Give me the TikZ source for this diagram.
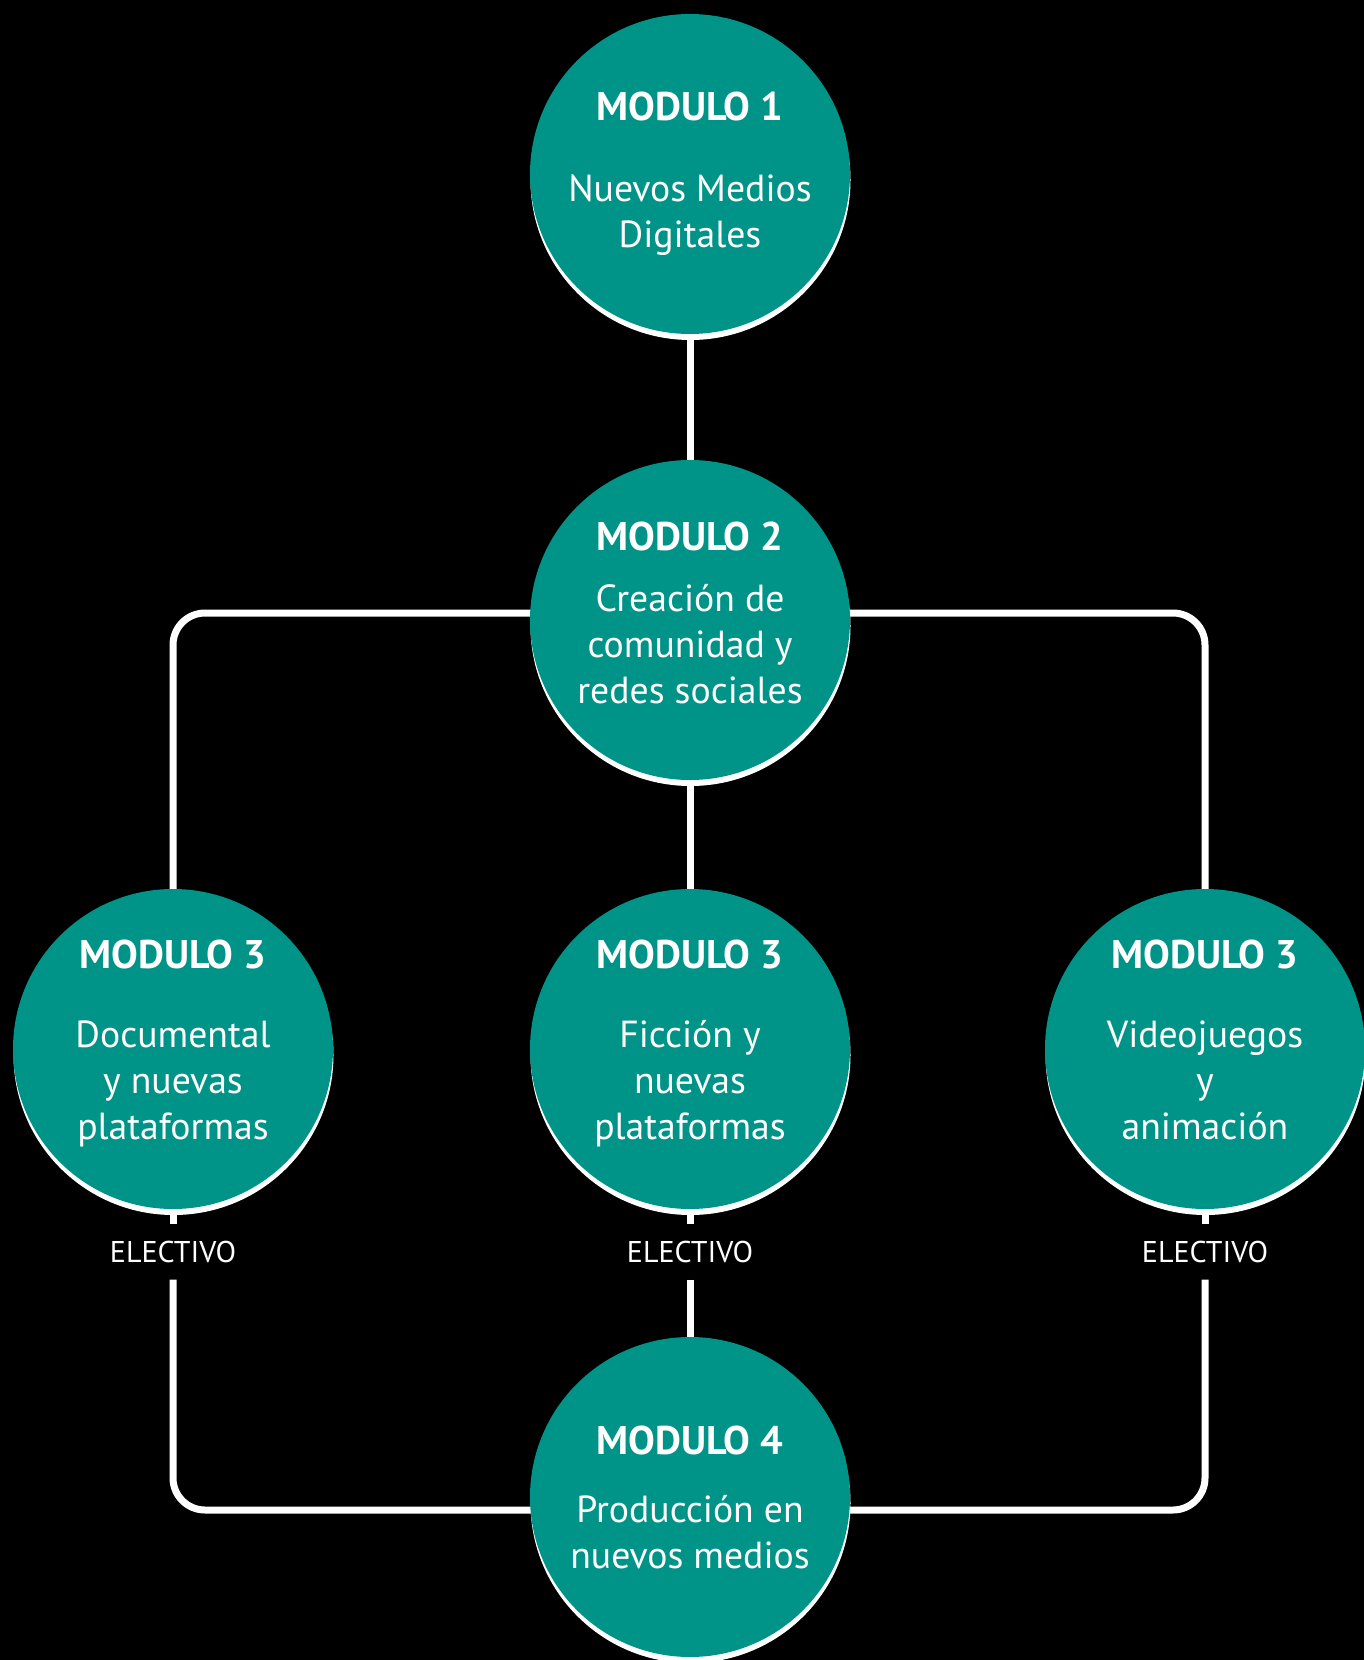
\documentclass[tikz,border=0pt]{standalone}
\usepackage{fontspec}
\setmainfont{PT Sans}
\usetikzlibrary{calc,shadows}
\definecolor{modteal}{RGB}{0,148,136}
\pgfdeclarelayer{bglayer}
\pgfdeclarelayer{linelayer}
\pgfsetlayers{bglayer,linelayer,main}
\begin{document}
\begin{tikzpicture}[x=1pt,y=-1pt,
  mod/.style={circle, fill=modteal, minimum size=320pt, inner sep=0pt,
    drop shadow={shadow xshift=0.5pt, shadow yshift=-6pt, fill=white, opacity=1}},
  ttl/.style={text=white, font=\bfseries\fontsize{40}{46}\selectfont, anchor=base, inner sep=0pt},
  bdy/.style={text=white, font=\fontsize{37.7}{46}\selectfont, align=center, anchor=base, inner sep=0pt},
  elect/.style={text=white, font=\fontsize{30}{34}\selectfont, minimum height=55pt, minimum width=150pt, inner sep=0pt},
  conn/.style={draw=white, line width=7pt, rounded corners=32pt}]
\useasboundingbox (0,0) rectangle (1364,1660);
\begin{pgfonlayer}{bglayer}
  \fill[black] (0,0) rectangle (1364,1660);
\end{pgfonlayer}

% circles
\node[mod] (m1) at (690,174) {};
\node[mod] (m2) at (690,620) {};
\node[mod] (m3l) at (173,1049) {};
\node[mod] (m3m) at (690,1049) {};
\node[mod] (m3r) at (1205,1049) {};
\node[mod] (m4) at (690,1497) {};

% texts (body nodes: base = baseline of the last line)
\node[ttl] (t1) at ($(m1.center)+(0,-54)$) {MODULO 1};
\node[bdy] (b1) at ($(m1.center)+(0,73)$) {Nuevos Medios\\Digitales};
\node[ttl] (t2) at ($(m2.center)+(0,-70)$) {MODULO 2};
\node[bdy] (b2) at ($(m2.center)+(0,83)$) {Creación de\\comunidad y\\redes sociales};
\node[ttl] (t3l) at ($(m3l.center)+(0,-81)$) {MODULO 3};
\node[bdy] (b3l) at ($(m3l.center)+(0,90)$) {Documental\\y nuevas\\plataformas};
\node[ttl] (t3m) at ($(m3m.center)+(0,-81)$) {MODULO 3};
\node[bdy] (b3m) at ($(m3m.center)+(0,90)$) {Ficción y\\nuevas\\plataformas};
\node[ttl] (t3r) at ($(m3r.center)+(0,-81)$) {MODULO 3};
\node[bdy] (b3r) at ($(m3r.center)+(0,90)$) {Videojuegos\\y\\animación};
\node[ttl] (t4) at ($(m4.center)+(0,-43)$) {MODULO 4};
\node[bdy] (b4) at ($(m4.center)+(0,71)$) {Producción en\\nuevos medios};

% electivo labels
\node[elect] (e1) at (173,1252) {ELECTIVO};
\node[elect] (e2) at (690,1252) {ELECTIVO};
\node[elect] (e3) at (1205,1252) {ELECTIVO};

% connectors
\begin{pgfonlayer}{linelayer}
  \draw[conn] (m1.center) -- (m2.center);
  \draw[conn] (m2.center) -- (m3m.center);
  \draw[conn] ($(m2.center)+(0,-7)$) -| (m3l.center);
  \draw[conn] ($(m2.center)+(0,-7)$) -| (m3r.center);
  \draw[conn] (m3l.center) -- (e1.north);
  \draw[conn] (m3m.center) -- (e2.north);
  \draw[conn] (m3r.center) -- (e3.north);
  \draw[conn] (e1.south) |- ($(m4.center)+(0,13)$);
  \draw[conn] (e3.south) |- ($(m4.center)+(0,13)$);
  \draw[conn] (e2.south) -- (m4.center);
\end{pgfonlayer}
\end{tikzpicture}
\end{document}
